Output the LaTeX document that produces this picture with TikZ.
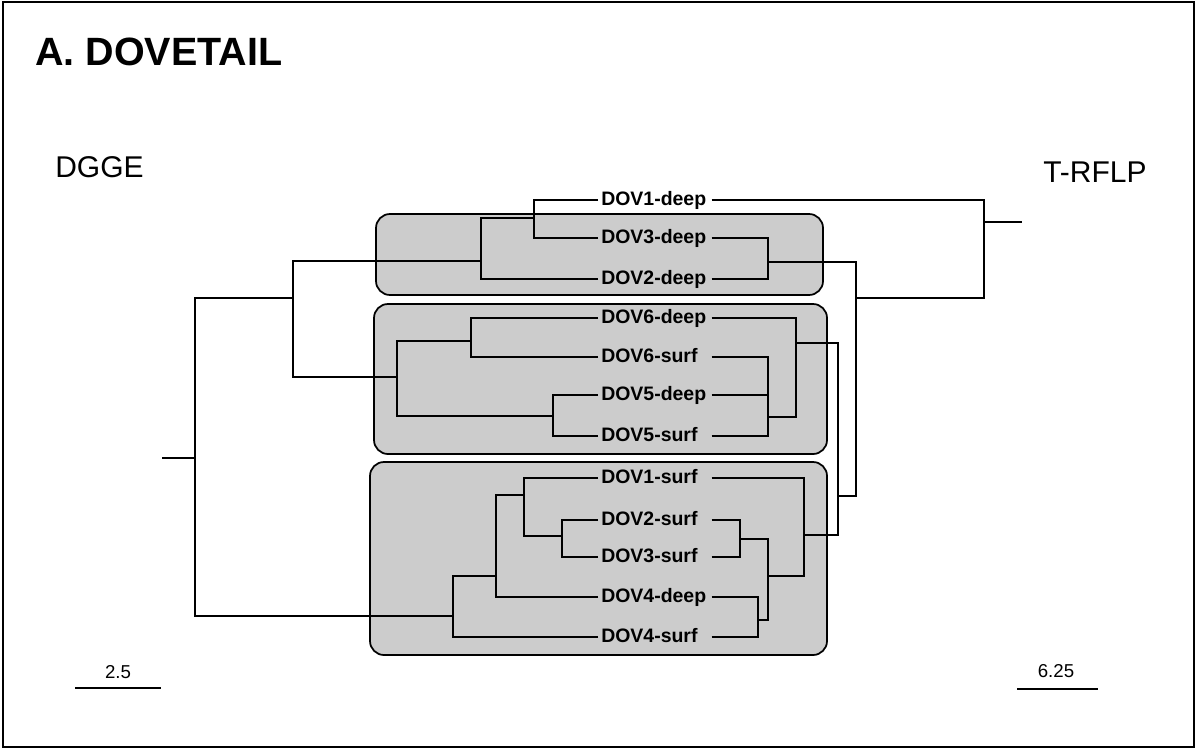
\documentclass[tikz,border=0pt]{standalone}
\usepackage{fontspec}
\setmainfont{Liberation Sans}
\usepackage{tikz}

\begin{document}
\begin{tikzpicture}[x=0.75pt,y=-0.75pt,
  edge/.style={line width=1.3pt},
  group/.style={line width=1.3pt, fill=black!20, rounded corners=10.5pt},
  leaf/.style={anchor=west, inner xsep=2.25pt, inner ysep=0pt, text width=80.25pt, align=left,
    text height=10.5pt, text depth=2.5pt, font=\fontsize{14.6}{16}\selectfont\bfseries},
  plain/.style={inner sep=0pt}]
\useasboundingbox (0,0) rectangle (1198,749);
\draw[line width=1.3pt] (3,2) rectangle (1194,747);
%titles
\node[plain, anchor=base west, font=\fontsize{29.6}{32}\selectfont\bfseries] (title) at (35,65) {A. DOVETAIL};
\node[plain, anchor=base west, font=\fontsize{22.5}{26}\selectfont] (dgge) at (55,177) {DGGE};
\node[plain, anchor=base west, font=\fontsize{22.5}{26}\selectfont] (trflp) at (1043,182) {T-RFLP};
%groups
\draw[group] (376,214) rectangle (823,295);
\draw[group] (374,304) rectangle (827,454);
\draw[group] (370,462) rectangle (827,655);
%leaves
\node[leaf] (dov1deep) at (598,200) {DOV1-deep};
\node[leaf] (dov3deep) at (598,238) {DOV3-deep};
\node[leaf] (dov2deep) at (598,279) {DOV2-deep};
\node[leaf] (dov6deep) at (598,318) {DOV6-deep};
\node[leaf] (dov6surf) at (598,357) {DOV6-surf};
\node[leaf] (dov5deep) at (598,395) {DOV5-deep};
\node[leaf] (dov5surf) at (598,436) {DOV5-surf};
\node[leaf] (dov1surf) at (598,478) {DOV1-surf};
\node[leaf] (dov2surf) at (598,520) {DOV2-surf};
\node[leaf] (dov3surf) at (598,557) {DOV3-surf};
\node[leaf] (dov4deep) at (598,597) {DOV4-deep};
\node[leaf] (dov4surf) at (598,637) {DOV4-surf};
%DGGE vertex
\coordinate (a1) at (534,218); \coordinate (a2) at (481,261); \coordinate (a3) at (293,298);
\coordinate (a4) at (397,377); \coordinate (a5) at (471,341); \coordinate (a6) at (553,416);
\coordinate (b1) at (453,616); \coordinate (b2) at (496,576); \coordinate (b3) at (524,495);
\coordinate (b4) at (562,536);
\coordinate (lroot) at (195,458); \coordinate (lstub) at (162,458);
%DGGE edge
\draw[edge] (dov1deep.west) -| (a1); \draw[edge] (dov3deep.west) -| (a1);
\draw[edge] (a1) -| (a2); \draw[edge] (dov2deep.west) -| (a2);
\draw[edge] (dov6deep.west) -| (a5); \draw[edge] (dov6surf.west) -| (a5);
\draw[edge] (dov5deep.west) -| (a6); \draw[edge] (dov5surf.west) -| (a6);
\draw[edge] (a5) -| (a4); \draw[edge] (a6) -| (a4);
\draw[edge] (a2) -| (a3); \draw[edge] (a4) -| (a3);
\draw[edge] (dov2surf.west) -| (b4); \draw[edge] (dov3surf.west) -| (b4);
\draw[edge] (dov1surf.west) -| (b3); \draw[edge] (b4) -| (b3);
\draw[edge] (b3) -| (b2); \draw[edge] (dov4deep.west) -| (b2);
\draw[edge] (b2) -| (b1); \draw[edge] (dov4surf.west) -| (b1);
\draw[edge] (a3) -| (lroot); \draw[edge] (b1) -| (lroot); \draw[edge] (lroot) -- (lstub);
%T-RFLP vertex
\coordinate (c1) at (768,262); \coordinate (c2) at (856,298); \coordinate (c3) at (838,496);
\coordinate (c4) at (796,343); \coordinate (c5) at (768,417); \coordinate (c6) at (804,535);
\coordinate (c7) at (768,576); \coordinate (c8) at (740,539); \coordinate (c9) at (758,620);
\coordinate (troot) at (984,222); \coordinate (tstub) at (1022,222);
%T-RFLP edge
\draw[edge] (dov3deep.east) -| (c1); \draw[edge] (dov2deep.east) -| (c1);
\draw[edge] (dov6surf.east) -| (c5); \draw[edge] (dov5deep.east) -| (c5); \draw[edge] (dov5surf.east) -| (c5);
\draw[edge] (dov6deep.east) -| (c4); \draw[edge] (c5) -| (c4);
\draw[edge] (dov2surf.east) -| (c8); \draw[edge] (dov3surf.east) -| (c8);
\draw[edge] (dov4deep.east) -| (c9); \draw[edge] (dov4surf.east) -| (c9);
\draw[edge] (c8) -| (c7); \draw[edge] (c9) -| (c7);
\draw[edge] (dov1surf.east) -| (c6); \draw[edge] (c7) -| (c6);
\draw[edge] (c4) -| (c3); \draw[edge] (c6) -| (c3);
\draw[edge] (c1) -| (c2); \draw[edge] (c3) -| (c2);
\draw[edge] (dov1deep.east) -| (troot); \draw[edge] (c2) -| (troot); \draw[edge] (troot) -- (tstub);
%scales
\coordinate (sa1) at (75,688); \coordinate (sa2) at (161,688);
\coordinate (sb1) at (1017,689); \coordinate (sb2) at (1098,689);
\draw[edge] (sa1) -- (sa2); \draw[edge] (sb1) -- (sb2);
\node[plain, anchor=base, font=\fontsize{14}{16}\selectfont] (scla) at (118,678) {2.5};
\node[plain, anchor=base, font=\fontsize{14}{16}\selectfont] (sclb) at (1056,677) {6.25};
\end{tikzpicture}
\end{document}
